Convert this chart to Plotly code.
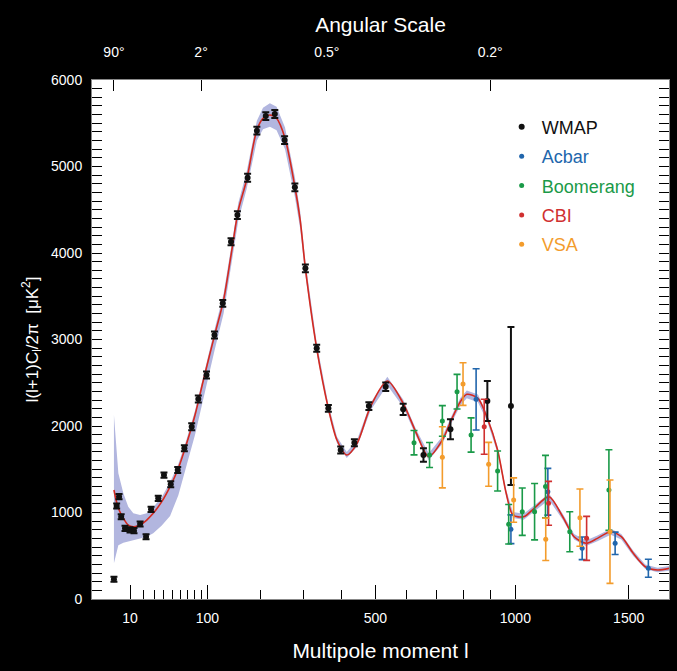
import numpy as np
import plotly.graph_objects as go

# ---------------- data ----------------
model_l = [2, 3.7, 6.1, 8.9, 12.2, 17.3, 22.9, 29, 37.9, 47.4, 57.7, 68.9, 80.9, 93.7,
           112.7, 127.5, 142.5, 154.8, 171, 192, 205, 220, 235, 254.5, 278, 291, 304,
           333, 364, 387.5, 415, 445, 485, 537, 588, 632, 674, 722, 754, 787, 811, 853,
           889, 929, 963, 990, 1034, 1077, 1140, 1199, 1249, 1302, 1354, 1415, 1465,
           1522, 1580, 1640, 1700]
model_v = [1260, 1048, 933, 855, 836, 855, 913, 991, 1125, 1298, 1511, 1800, 2127, 2532,
           3071, 3456, 4034, 4497, 4844, 5422, 5557, 5595, 5557, 5326, 4766, 4381, 3823,
           2898, 2204, 1838, 1665, 1800, 2223, 2520, 2262, 1915, 1645, 1838, 2069, 2281,
           2366, 2320, 2089, 1722, 1222, 971, 951, 1048, 1183, 951, 720, 644, 701, 778,
           720, 528, 373, 335, 355]
band_upper = [2127, 1453, 1222, 1067, 991, 971, 991, 1060, 1180, 1350, 1560, 1850, 2180,
              2590, 3140, 3530, 4110, 4580, 4940, 5530, 5680, 5730, 5690, 5450, 4880, 4480,
              3900, 2960, 2250, 1875, 1700, 1840, 2265, 2570, 2305, 1955, 1685, 1880, 2110,
              2325, 2410, 2365, 2130, 1760, 1260, 1005, 985, 1085, 1220, 985, 752, 675,
              733, 812, 752, 558, 400, 362, 382]
band_lower = [413, 620, 651, 665, 682, 700, 720, 760, 850, 960, 1200, 1550, 1900, 2330,
              2900, 3300, 3900, 4380, 4740, 5300, 5430, 5460, 5420, 5200, 4650, 4280, 3740,
              2840, 2160, 1800, 1630, 1760, 2180, 2470, 2220, 1875, 1605, 1796, 2028, 2237,
              2322, 2275, 2048, 1684, 1184, 937, 917, 1011, 1146, 917, 688, 613, 669, 744,
              688, 498, 346, 308, 328]

wmap_l = [2, 3, 4, 5, 7, 10, 12.7, 17.3, 22.3, 26.9, 34.1, 40.3, 48.2, 56.9, 65.7, 76,
          85.8, 98.6, 111.7, 126, 141, 153, 173, 192, 211, 231, 253.5, 278, 304, 333,
          364, 398, 437, 480, 532, 588, 656, 751, 889, 982]
wmap_v = [228, 1075, 1183, 951, 817, 800, 790, 867, 720, 1037, 1164, 1433, 1326, 1491,
          1742, 1992, 2312, 2589, 3052, 3418, 4130, 4439, 4870, 5414, 5583, 5607, 5306,
          4759, 3823, 2898, 2204, 1722, 1807, 2231, 2454, 2193, 1665, 1962, 2289, 2231]
wmap_e = [30, 30, 30, 30, 30, 30, 30, 30, 30, 30, 30, 30, 35, 35, 35, 40, 40, 40, 40,
          40, 40, 45, 45, 45, 45, 45, 45, 45, 45, 40, 40, 40, 40, 45, 50, 65, 77, 116,
          231, 913]

acbar_l = [846, 982, 1135, 1285, 1436, 1595]
acbar_v = [2308, 806, 1240, 586, 644, 355]
acbar_e = [354, 166, 270, 131, 129, 104]

boom_l = [624, 677, 722, 775, 827, 929, 973, 1028, 1079, 1125, 1230, 1407]
boom_v = [1807, 1665, 2058, 2397, 1896, 1480, 864, 1009, 1009, 1300, 778, 1260]
boom_e = [141, 144, 177, 200, 198, 231, 229, 274, 326, 360, 231, 466]

cbi_l = [877, 1138, 1305]
cbi_v = [1992, 1106, 701]
cbi_e = [318, 254, 254]

vsa_l = [722, 797, 894, 993, 1126, 1275, 1412]
vsa_v = [1638, 2485, 1557, 1144, 690, 940, 778]
vsa_e = [353, 247, 254, 256, 245, 331, 597]

bottom_ticks = [10, 100, 500, 1000, 1500]
bottom_labels = ["10", "100", "500", "1000", "1500"]
bottom_minor = [20, 30, 40, 50, 60, 70, 80, 90, 200, 300, 400, 600, 700, 800, 900]
top_ticks_l = [2, 90, 360, 900]
top_labels = ["90°", "2°", "0.5°", "0.2°"]
y_ticks = [0, 1000, 2000, 3000, 4000, 5000, 6000]

# the multipole axis of the original is a power-law (l^0.6) scale
P = 0.6
def sc(v):
    return (np.asarray(v, dtype=float)) ** P

x_range = [-1.85, 86.66]

FONT = "Liberation Sans, Arial, sans-serif"
C_WMAP, C_ACBAR, C_BOOM, C_CBI, C_VSA = "#111111", "#2166ac", "#1a9a48", "#d03030", "#f39c2c"
C_MODEL = "#d42a20"
C_BAND = "#b2b6df"

fig = go.Figure()

# cosmic variance band
fig.add_trace(go.Scatter(
    x=np.concatenate([sc(model_l), sc(model_l)[::-1]]),
    y=list(band_upper) + list(band_lower)[::-1],
    fill="toself", fillcolor=C_BAND, line=dict(width=0, color=C_BAND),
    mode="lines", hoverinfo="skip", showlegend=False))

# model curve
fig.add_trace(go.Scatter(x=sc(model_l), y=model_v, mode="lines",
                         line=dict(color=C_MODEL, width=1.6, shape="spline", smoothing=0.8),
                         showlegend=False))

def data_trace(name, color, l, v, e, size=5, thick=1.6, w=3.5):
    return go.Scatter(
        x=sc(l), y=v, mode="markers", name=f"<span style='color:{color}'>{name}</span>",
        marker=dict(color=color, size=size, symbol="circle"),
        error_y=dict(type="data", array=e, color=color, thickness=thick, width=w),
        legendgroup=name)

fig.add_trace(data_trace("WMAP", C_WMAP, wmap_l, wmap_v, wmap_e, size=6, thick=2, w=3.5))
fig.add_trace(data_trace("Acbar", C_ACBAR, acbar_l, acbar_v, acbar_e))
fig.add_trace(data_trace("Boomerang", C_BOOM, boom_l, boom_v, boom_e))
fig.add_trace(data_trace("CBI", C_CBI, cbi_l, cbi_v, cbi_e))
fig.add_trace(data_trace("VSA", C_VSA, vsa_l, vsa_v, vsa_e))

# invisible trace to anchor the top axis
fig.add_trace(go.Scatter(x=sc(top_ticks_l), y=[None] * len(top_ticks_l), xaxis="x2",
                         mode="markers", showlegend=False, hoverinfo="skip"))

fig.update_layout(
    width=677, height=671,
    margin=dict(l=92, r=8, t=80, b=72),
    paper_bgcolor="black", plot_bgcolor="white",
    font=dict(family=FONT, color="white", size=14),
    showlegend=True,
    legend=dict(x=0.71, y=0.945, xanchor="left", yanchor="top",
                bgcolor="rgba(255,255,255,0)", font=dict(size=18, family=FONT),
                tracegroupgap=3, itemwidth=30),
    xaxis=dict(range=x_range, tickmode="array", tickvals=sc(bottom_ticks),
               ticktext=bottom_labels, ticks="inside", ticklen=14, tickwidth=1.2,
               tickcolor="black", showgrid=False, zeroline=False, showline=True,
               linecolor="#888888", linewidth=1, ticklabelstandoff=6,
               tickfont=dict(size=14, color="white"),
               minor=dict(tickmode="array", tickvals=sc(bottom_minor), ticks="inside",
                          ticklen=9, tickcolor="black", tickwidth=1.2, showgrid=False),
               title=dict(text="Multipole moment l", font=dict(size=21, color="white"),
                          standoff=18)),
    xaxis2=dict(range=x_range, overlaying="x", side="top", tickmode="array",
                tickvals=sc(top_ticks_l), ticktext=top_labels, ticks="inside",
                ticklen=11, tickwidth=1.2, tickcolor="black", showgrid=False,
                zeroline=False, showline=True, linecolor="#888888",
                ticklabelstandoff=16, tickfont=dict(size=14, color="white"),
                title=dict(text="Angular Scale", font=dict(size=21, color="white"),
                           standoff=6)),
    yaxis=dict(range=[0, 6000], tickmode="array", tickvals=y_ticks, ticks="inside",
               ticklen=10, tickwidth=1.2, tickcolor="black", showgrid=False,
               zeroline=False, showline=True, linecolor="#888888", mirror="allticks",
               ticklabelstandoff=6, tickfont=dict(size=14, color="white"),
               minor=dict(dtick=100, ticks="inside", ticklen=5, tickcolor="black",
                          tickwidth=1, showgrid=False),
               title=dict(text="l(l+1)C<sub>l</sub>/2π  [μK<sup>2</sup>]",
                          font=dict(size=17, color="white"), standoff=8)),
)

fig.write_html("out.html")
